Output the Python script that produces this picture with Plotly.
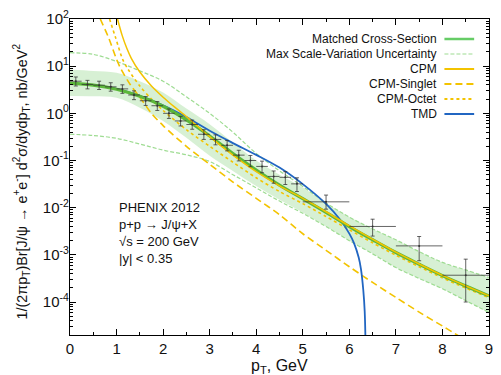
import plotly.graph_objects as go

FONT = "Liberation Sans, Arial, Helvetica, sans-serif"

# ---------------- data ----------------
pt_grid = [0.0, 0.5, 1.0, 1.5, 2.0, 2.5, 3.0, 3.5, 4.0, 4.5, 5.0, 5.5, 6.0, 6.5, 7.0, 7.5, 8.0, 8.5, 9.0]

matched = [4.32, 3.98, 3.24, 2.29, 1.41, 0.724, 0.331, 0.141, 0.0631, 0.0302, 0.0155, 0.00794,
           0.00398, 0.00209, 0.00112, 6.31e-4, 3.63e-4, 2.19e-4, 1.35e-4]
band_upper = [8.51, 7.94, 7.24, 4.79, 2.75, 1.26, 0.589, 0.240, 0.100, 0.0501, 0.0269, 0.0126,
              0.00631, 0.00355, 0.00209, 0.00117, 6.92e-4, 4.79e-4, 3.31e-4]
band_lower = [2.32, 2.29, 2.14, 1.32, 0.692, 0.302, 0.126, 0.0603, 0.0288, 0.0148, 0.00794, 0.00398,
              0.00200, 0.00105, 5.37e-4, 3.16e-4, 1.91e-4, 1.07e-4, 6.03e-5]
scale_max = [19.3, 17.8, 12.6, 7.94, 4.79, 2.24, 1.0, 0.398, 0.141, 0.0603, 0.0282, 0.0126,
             0.00631, 0.00355, 0.00209, 0.00117, 6.92e-4, 4.79e-4, 3.31e-4]
scale_min = [0.36, 0.339, 0.295, 0.224, 0.166, 0.132, 0.0955, 0.0501, 0.0263, 0.0138, 0.00759, 0.00398,
             0.00200, 0.00105, 5.37e-4, 3.16e-4, 1.91e-4, 1.07e-4, 6.03e-5]

cpm_pt = [1.02, 1.12, 1.22, 1.32, 1.5, 1.75, 2.0, 2.25, 2.5, 2.75, 3.0, 3.5, 4.0, 4.5, 5.0, 5.5, 6.0, 6.5, 7.0, 7.5, 8.0, 8.5, 9.0]
cpm = [100, 45, 24, 14.5, 7.5, 3.8, 2.2, 1.35, 0.85, 0.52, 0.32, 0.13, 0.058, 0.029, 0.0158, 0.0082,
       0.0041, 0.00215, 0.00114, 6.4e-4, 3.68e-4, 2.2e-4, 1.36e-4]

octet_pt = [0.85, 0.98, 1.13, 1.25, 1.5, 1.75, 2.0, 2.5, 3.0, 3.5, 4.0, 4.5, 5.0, 5.5, 6.0, 6.5, 7.0, 7.5, 8.0, 8.5, 9.0]
octet = [100, 40, 14, 8.5, 3.8, 2.0, 1.15, 0.45, 0.2, 0.092, 0.043, 0.022, 0.0122, 0.0065, 0.0034,
         0.0018, 9.8e-4, 5.6e-4, 3.25e-4, 1.98e-4, 1.24e-4]

singlet_pt = [0.65, 0.83, 1.0, 1.1, 1.3, 1.5, 1.75, 2.0, 2.5, 3.0, 3.5, 4.0, 4.5, 5.0, 5.5, 6.0, 6.5, 7.0, 7.5, 8.0, 8.5]
singlet = [100, 40, 14, 8.5, 4.0, 2.2, 1.0, 0.55, 0.2, 0.083, 0.035, 0.0158, 0.0071, 0.0028, 0.00125,
           5.6e-4, 2.6e-4, 1.25e-4, 6.1e-5, 3.1e-5, 1.55e-5]

tmd_pt = [0.0, 0.5, 1.0, 1.5, 2.0, 2.5, 3.0, 3.5, 4.0, 4.5, 5.0, 5.5, 5.8, 6.0, 6.1, 6.2, 6.25, 6.3, 6.33, 6.35, 6.36]
tmd = [4.37, 3.98, 3.31, 2.34, 1.48, 0.832, 0.427, 0.234, 0.132, 0.0708, 0.0316, 0.0120, 0.00562,
       0.00282, 0.00178, 8.9e-4, 5.0e-4, 1.78e-4, 6.3e-5, 1.0e-5, 1.0e-6]

data_pt = [0.125, 0.375, 0.625, 0.875, 1.125, 1.375, 1.625, 1.875, 2.125, 2.375, 2.625, 2.875,
           3.125, 3.375, 3.625, 3.875, 4.125, 4.375, 4.625, 4.875, 5.5, 6.5, 7.5, 8.5]
data_val = [4.8, 4.1, 3.95, 3.65, 3.3, 2.45, 1.85, 1.45, 1.0, 0.69, 0.58, 0.36,
            0.28, 0.21, 0.13, 0.10, 0.075, 0.046, 0.044, 0.032, 0.0133, 0.0040, 0.00155, 0.00037]
data_err_up = [1.1, 0.9, 0.85, 0.8, 0.72, 0.55, 0.42, 0.33, 0.24, 0.17, 0.14, 0.09,
               0.07, 0.055, 0.035, 0.028, 0.022, 0.014, 0.014, 0.011, 0.0052, 0.0017, 0.0009, 0.00044]
data_err_down = [1.0, 0.8, 0.75, 0.7, 0.65, 0.5, 0.38, 0.3, 0.22, 0.15, 0.12, 0.08,
                 0.065, 0.05, 0.032, 0.026, 0.02, 0.013, 0.013, 0.010, 0.0040, 0.0015, 0.0008, 0.00027]
data_xerr = [0.125] * 20 + [0.5] * 4

x_ticks = [0, 1, 2, 3, 4, 5, 6, 7, 8, 9]
y_ticks = [1e-4, 1e-3, 1e-2, 1e-1, 1e0, 1e1, 1e2]
y_ticktext = ["10<sup>-4</sup>", "10<sup>-3</sup>", "10<sup>-2</sup>", "10<sup>-1</sup>",
              "10<sup>0</sup>", "10<sup>1</sup>", "10<sup>2</sup>"]

legend_labels = ["Matched Cross-Section", "Max Scale-Variation Uncertainty", "CPM",
                 "CPM-Singlet", "CPM-Octet", "TMD"]
info_lines = ["PHENIX 2012", "p+p → J/ψ+X", "√s = 200 GeV", "|y| < 0.35"]

# ---------------- styles ----------------
GREEN = "#5cb83a"
GREEN_LIGHT = "#9edc92"
BAND = "rgba(110,200,100,0.28)"
YELLOW = "#f3c300"
BLUE = "#2166c2"

fig = go.Figure()

fig.add_trace(go.Scatter(x=pt_grid, y=band_upper, mode="lines", line=dict(width=0, shape="spline"),
                         hoverinfo="skip"))
fig.add_trace(go.Scatter(x=pt_grid, y=band_lower, mode="lines", line=dict(width=0, shape="spline"),
                         fill="tonexty", fillcolor=BAND, hoverinfo="skip"))
fig.add_trace(go.Scatter(x=pt_grid, y=scale_max, mode="lines",
                         line=dict(color=GREEN_LIGHT, width=1.2, dash="4px,2px", shape="spline")))
fig.add_trace(go.Scatter(x=pt_grid, y=scale_min, mode="lines",
                         line=dict(color=GREEN_LIGHT, width=1.2, dash="4px,2px", shape="spline")))
fig.add_trace(go.Scatter(x=singlet_pt, y=singlet, mode="lines",
                         line=dict(color=YELLOW, width=1.6, dash="7px,4px", shape="spline", smoothing=0.8)))
fig.add_trace(go.Scatter(x=octet_pt, y=octet, mode="lines",
                         line=dict(color=YELLOW, width=1.6, dash="3px,3px", shape="spline", smoothing=0.8)))
fig.add_trace(go.Scatter(x=tmd_pt, y=tmd, mode="lines",
                         line=dict(color=BLUE, width=1.8, shape="spline")))
fig.add_trace(go.Scatter(x=pt_grid, y=matched, mode="lines",
                         line=dict(color=GREEN, width=3.2, shape="spline")))
fig.add_trace(go.Scatter(x=cpm_pt, y=cpm, mode="lines",
                         line=dict(color=YELLOW, width=1.5, shape="spline", smoothing=0.8)))
fig.add_trace(go.Scatter(
    x=data_pt, y=data_val, mode="markers",
    marker=dict(size=2, color="#333333"),
    error_y=dict(type="data", array=data_err_up, arrayminus=data_err_down, symmetric=False,
                 color="rgba(50,50,50,0.75)", thickness=1, width=2),
    error_x=dict(type="data", array=data_xerr, color="rgba(50,50,50,0.75)", thickness=1, width=0),
))

# ---------------- layout ----------------
L, R, T, B = 70, 8, 19, 40
W, H = 501, 375
pw, ph = W - L - R, H - T - B


def px_to_paper(px, py):
    return (px - L) / pw, (H - B - py) / ph


annotations = []
legend_styles = [
    dict(color="#66cc66", width=2.5, dash="solid"),
    dict(color=GREEN_LIGHT, width=1.2, dash="4px,2px"),
    dict(color=YELLOW, width=2, dash="solid"),
    dict(color=YELLOW, width=2, dash="7px,4px"),
    dict(color=YELLOW, width=2, dash="3px,3px"),
    dict(color=BLUE, width=2, dash="solid"),
]
shapes = []
for i, (lab, st) in enumerate(zip(legend_labels, legend_styles)):
    py = 39 + 15 * i
    xa, ya = px_to_paper(443, py)
    annotations.append(dict(x=xa, y=ya, xref="paper", yref="paper", text=lab, showarrow=False,
                            xanchor="right", yanchor="middle", font=dict(size=12, color="#111111", family=FONT)))
    x0, _ = px_to_paper(448, py)
    x1, _ = px_to_paper(478, py)
    shapes.append(dict(type="line", xref="paper", yref="paper", x0=x0, x1=x1, y0=ya, y1=ya,
                       line=st))

for i, txt in enumerate(info_lines):
    xa, ya = px_to_paper(117, 207 + 17 * i)
    annotations.append(dict(x=xa, y=ya, xref="paper", yref="paper", text=txt, showarrow=False,
                            xanchor="left", yanchor="middle", font=dict(size=13, color="#111111", family=FONT)))

xa, ya = px_to_paper(21, 181)
annotations.append(dict(x=xa, y=ya, xref="paper", yref="paper", textangle=-90, showarrow=False,
                        text="1/(2πp<sub>T</sub>)Br[J/ψ → e<sup>+</sup>e<sup>-</sup>] d<sup>2</sup>σ/dydp<sub>T</sub>, nb/GeV<sup>2</sup>",
                        xanchor="center", yanchor="middle", font=dict(size=14.4, color="#111111", family=FONT)))
xa, ya = px_to_paper(281.5, 366)
annotations.append(dict(x=xa, y=ya, xref="paper", yref="paper", showarrow=False,
                        text="p<sub>T</sub>, GeV", xanchor="center", yanchor="middle",
                        font=dict(size=16, color="#111111", family=FONT)))

y_minor = [m * 10 ** e for e in range(-5, 2) for m in range(2, 10) if m * 10 ** e >= 2e-5]
x_minor = [0.5 + k for k in range(9)]

fig.update_layout(
    width=W, height=H, margin=dict(l=L, r=R, t=T, b=B),
    paper_bgcolor="white", plot_bgcolor="white", showlegend=False,
    font=dict(family=FONT, color="#111111"),
    annotations=annotations, shapes=shapes,
    xaxis=dict(range=[0, 9], tickvals=x_ticks, ticks="inside", ticklen=6, tickwidth=1, tickcolor="black",
               minor=dict(tickvals=x_minor, ticks="inside", ticklen=3, tickcolor="black"),
               showline=True, linecolor="black", linewidth=1.2, mirror="ticks",
               showgrid=False, zeroline=False, tickfont=dict(size=15, family=FONT, color="#111111")),
    yaxis=dict(type="log", range=[-4.69897, 2], tickvals=y_ticks, ticktext=y_ticktext,
               ticks="inside", ticklen=6, tickwidth=1, tickcolor="black", ticklabelstandoff=-3,
               minor=dict(tickvals=y_minor, ticks="inside", ticklen=3, tickcolor="black"),
               showline=True, linecolor="black", linewidth=1.2, mirror="ticks",
               showgrid=False, zeroline=False, tickfont=dict(size=15, family=FONT, color="#111111")),
)

fig.write_html("out.html", config={"displayModeBar": False},
               post_script="document.body.style.margin='0px';")
